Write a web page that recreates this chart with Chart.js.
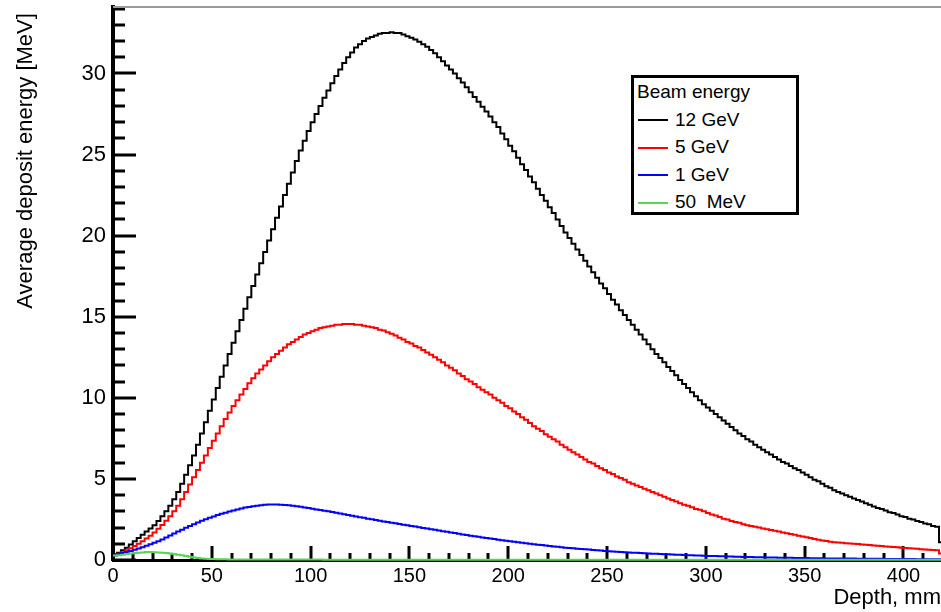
<!DOCTYPE html>
<html>
<head>
<meta charset="utf-8">
<title>Average deposit energy vs depth</title>
<script src="https://cdn.jsdelivr.net/npm/chart.js@4.4.1/dist/chart.umd.min.js"></script>
<style>
  html, body { margin: 0; padding: 0; background: #fff; }
  #wrap { position: relative; width: 941px; height: 612px; }
  #legend {
    position: absolute; left: 631px; top: 75px;
    width: 162px; height: 134px;
    border: 3px solid #000; background: #fff;
    font-family: "Liberation Sans", Arial, sans-serif; font-size: 19px; color: #000;
  }
  #legend .row { position: absolute; left: 0; height: 27px; line-height: 27px; white-space: pre; }
  #legend .head { left: 3px; }
  #legend .swatch { display: inline-block; width: 30px; height: 2px; margin: 0 7px 0 4px; vertical-align: middle; }
</style>
</head>
<body>
<div id="wrap">
  <canvas id="depthChart" width="941" height="612"></canvas>
  <div id="legend"></div>
</div>
<script>
// Bins: 2 mm wide, lower edges 0 .. 418 mm
const binWidth = 2;
const depth = Array.from({ length: 210 }, (_, i) => i * binWidth);

const seriesLabels = ['12 GeV', '5 GeV', '1 GeV', '50  MeV'];
const seriesColors = ['#000000', '#ff0000', '#0000ff', '#59d454'];

const xTickValues = [0, 50, 100, 150, 200, 250, 300, 350, 400];
const yTickValues = [0, 5, 10, 15, 20, 25, 30];
const xMinorStep = 10;
const yMinorStep = 1;

// Average deposit per bin [MeV]
const e12GeV = [
  0.35, 0.45, 0.6, 0.75, 0.95, 1.15, 1.35, 1.55, 1.75, 1.95,
  2.15, 2.4, 2.7, 3.0, 3.35, 3.75, 4.2, 4.7, 5.25, 5.85,
  6.45, 7.1, 7.8, 8.5, 9.2, 9.9, 10.6, 11.3, 12.0, 12.7,
  13.4, 14.1, 14.8, 15.5, 16.2, 16.9, 17.6, 18.3, 19.0, 19.7,
  20.4, 21.1, 21.8, 22.5, 23.2, 23.9, 24.6, 25.25, 25.85, 26.45,
  27.0, 27.5, 28.0, 28.5, 28.95, 29.4, 29.85, 30.25, 30.65, 31.0,
  31.3, 31.6, 31.8, 32.0, 32.15, 32.25, 32.35, 32.45, 32.5, 32.5,
  32.55, 32.5, 32.5, 32.4, 32.3, 32.2, 32.1, 31.95, 31.8, 31.65,
  31.45, 31.25, 31.0, 30.75, 30.5, 30.25, 30.0, 29.7, 29.45, 29.15,
  28.85, 28.55, 28.25, 27.95, 27.65, 27.35, 27.0, 26.7, 26.3, 25.95,
  25.55, 25.2, 24.8, 24.4, 24.05, 23.65, 23.3, 22.9, 22.5, 22.15,
  21.75, 21.4, 21.0, 20.6, 20.2, 19.85, 19.5, 19.15, 18.8, 18.45,
  18.1, 17.75, 17.4, 17.05, 16.75, 16.4, 16.05, 15.75, 15.4, 15.1,
  14.8, 14.5, 14.2, 13.9, 13.6, 13.3, 13.0, 12.7, 12.45, 12.2,
  11.9, 11.65, 11.4, 11.1, 10.85, 10.6, 10.35, 10.1, 9.85, 9.6,
  9.4, 9.2, 9.0, 8.8, 8.6, 8.4, 8.2, 8.0, 7.8, 7.65,
  7.45, 7.3, 7.1, 6.95, 6.8, 6.65, 6.5, 6.35, 6.2, 6.05,
  5.95, 5.8, 5.65, 5.55, 5.4, 5.25, 5.1, 4.95, 4.85, 4.7,
  4.55, 4.45, 4.3, 4.2, 4.1, 4.0, 3.9, 3.8, 3.7, 3.6,
  3.5, 3.4, 3.3, 3.2, 3.15, 3.05, 2.95, 2.9, 2.8, 2.7,
  2.65, 2.55, 2.5, 2.4, 2.35, 2.25, 2.2, 2.1, 2.05, 1.1
];
const e5GeV = [
  0.3, 0.38, 0.48, 0.6, 0.72, 0.86, 1.0, 1.15, 1.32, 1.5,
  1.7, 1.92, 2.16, 2.42, 2.7, 3.0, 3.35, 3.75, 4.2, 4.65,
  5.1, 5.55, 6.0, 6.45, 6.9, 7.35, 7.8, 8.25, 8.7, 9.1,
  9.5, 9.85, 10.2, 10.55, 10.9, 11.2, 11.5, 11.75, 12.0, 12.25,
  12.5, 12.7, 12.9, 13.1, 13.3, 13.45, 13.6, 13.75, 13.9, 14.0,
  14.1, 14.2, 14.3, 14.35, 14.4, 14.45, 14.5, 14.5, 14.55, 14.55,
  14.55, 14.5, 14.5, 14.45, 14.4, 14.35, 14.3, 14.2, 14.15, 14.05,
  13.95, 13.85, 13.7, 13.6, 13.45, 13.35, 13.2, 13.1, 12.95, 12.8,
  12.65, 12.5, 12.35, 12.2, 12.0, 11.85, 11.7, 11.5, 11.35, 11.15,
  11.0, 10.85, 10.65, 10.5, 10.35, 10.2, 10.0, 9.85, 9.7, 9.5,
  9.35, 9.15, 9.0, 8.8, 8.65, 8.45, 8.25, 8.1, 7.95, 7.75,
  7.6, 7.45, 7.3, 7.1, 6.95, 6.8, 6.65, 6.5, 6.35, 6.2,
  6.05, 5.95, 5.8, 5.65, 5.55, 5.4, 5.3, 5.15, 5.05, 4.95,
  4.8, 4.7, 4.6, 4.5, 4.4, 4.3, 4.2, 4.1, 4.0, 3.9,
  3.8, 3.7, 3.6, 3.5, 3.4, 3.35, 3.25, 3.15, 3.1, 3.0,
  2.9, 2.8, 2.75, 2.65, 2.55, 2.5, 2.4, 2.35, 2.3, 2.2,
  2.15, 2.1, 2.05, 2.0, 1.95, 1.9, 1.85, 1.8, 1.75, 1.7,
  1.65, 1.6, 1.55, 1.5, 1.45, 1.4, 1.35, 1.3, 1.25, 1.2,
  1.17, 1.13, 1.1, 1.08, 1.06, 1.04, 1.02, 1.0, 0.98, 0.96,
  0.94, 0.92, 0.9, 0.88, 0.86, 0.84, 0.82, 0.8, 0.78, 0.76,
  0.74, 0.72, 0.71, 0.69, 0.67, 0.65, 0.63, 0.62, 0.6, 0.4
];
const e1GeV = [
  0.3, 0.36, 0.43, 0.5, 0.56, 0.63, 0.71, 0.79, 0.88, 0.97,
  1.06, 1.16, 1.27, 1.39, 1.51, 1.63, 1.75, 1.87, 1.99, 2.1,
  2.21, 2.32, 2.42, 2.52, 2.61, 2.69, 2.77, 2.85, 2.92, 2.99,
  3.06, 3.12, 3.18, 3.23, 3.27, 3.31, 3.35, 3.38, 3.4, 3.42,
  3.42, 3.42, 3.41, 3.39, 3.37, 3.34, 3.31, 3.28, 3.24, 3.2,
  3.16, 3.12, 3.08, 3.04, 3.0, 2.96, 2.91, 2.87, 2.82, 2.78,
  2.73, 2.69, 2.64, 2.6, 2.55, 2.51, 2.47, 2.42, 2.38, 2.34,
  2.3, 2.26, 2.22, 2.18, 2.14, 2.1, 2.06, 2.02, 1.98, 1.94,
  1.9, 1.86, 1.82, 1.78, 1.74, 1.7, 1.66, 1.62, 1.58, 1.54,
  1.5, 1.46, 1.43, 1.39, 1.36, 1.32, 1.29, 1.25, 1.22, 1.19,
  1.15, 1.12, 1.09, 1.06, 1.03, 1.0, 0.97, 0.94, 0.92, 0.89,
  0.86, 0.84, 0.81, 0.79, 0.76, 0.74, 0.72, 0.7, 0.68, 0.66,
  0.64, 0.62, 0.6, 0.58, 0.56, 0.54, 0.53, 0.51, 0.5, 0.48,
  0.47, 0.45, 0.44, 0.43, 0.41, 0.4, 0.39, 0.38, 0.37, 0.36,
  0.35, 0.34, 0.33, 0.32, 0.31, 0.3, 0.29, 0.28, 0.27, 0.26,
  0.25, 0.245, 0.24, 0.23, 0.225, 0.22, 0.21, 0.205, 0.2, 0.19,
  0.185, 0.18, 0.175, 0.17, 0.165, 0.16, 0.155, 0.15, 0.145, 0.14,
  0.14, 0.135, 0.13, 0.125, 0.12, 0.12, 0.115, 0.11, 0.11, 0.105,
  0.1, 0.1, 0.095, 0.095, 0.09, 0.09, 0.085, 0.085, 0.08, 0.08,
  0.075, 0.075, 0.07, 0.07, 0.07, 0.065, 0.065, 0.06, 0.06, 0.06,
  0.055, 0.055, 0.055, 0.05, 0.05, 0.05, 0.05, 0.045, 0.045, 0.04
];
const e50MeV = [
  0.27, 0.3, 0.33, 0.37, 0.4, 0.43, 0.45, 0.47, 0.49, 0.49,
  0.48, 0.47, 0.45, 0.43, 0.4, 0.37, 0.33, 0.29, 0.24, 0.2,
  0.16, 0.13, 0.1, 0.08, 0.065, 0.055, 0.05, 0.045, 0.04, 0.038,
  0.035, 0.034, 0.033, 0.032, 0.031, 0.03, 0.03, 0.03, 0.029, 0.029,
  0.028, 0.028, 0.027, 0.027, 0.026, 0.026, 0.026, 0.025, 0.025, 0.025,
  0.024, 0.024, 0.024, 0.023, 0.023, 0.023, 0.022, 0.022, 0.022, 0.022,
  0.021, 0.021, 0.021, 0.021, 0.021, 0.021, 0.021, 0.021, 0.021, 0.021,
  0.02, 0.02, 0.02, 0.02, 0.02, 0.02, 0.02, 0.02, 0.02, 0.02,
  0.019, 0.019, 0.019, 0.019, 0.019, 0.019, 0.019, 0.019, 0.019, 0.019,
  0.018, 0.018, 0.018, 0.018, 0.018, 0.018, 0.018, 0.018, 0.018, 0.018,
  0.017, 0.017, 0.017, 0.017, 0.017, 0.017, 0.017, 0.017, 0.017, 0.017,
  0.016, 0.016, 0.016, 0.016, 0.016, 0.016, 0.016, 0.016, 0.016, 0.016,
  0.015, 0.015, 0.015, 0.015, 0.015, 0.015, 0.015, 0.015, 0.015, 0.015,
  0.014, 0.014, 0.014, 0.014, 0.014, 0.014, 0.014, 0.014, 0.014, 0.014,
  0.013, 0.013, 0.013, 0.013, 0.013, 0.013, 0.013, 0.013, 0.013, 0.013,
  0.012, 0.012, 0.012, 0.012, 0.012, 0.012, 0.012, 0.012, 0.012, 0.012,
  0.011, 0.011, 0.011, 0.011, 0.011, 0.011, 0.011, 0.011, 0.011, 0.011,
  0.01, 0.01, 0.01, 0.01, 0.01, 0.01, 0.01, 0.01, 0.01, 0.01,
  0.01, 0.01, 0.01, 0.01, 0.01, 0.01, 0.01, 0.01, 0.01, 0.01,
  0.01, 0.01, 0.01, 0.01, 0.01, 0.01, 0.01, 0.01, 0.01, 0.01,
  0.01, 0.01, 0.01, 0.01, 0.01, 0.01, 0.01, 0.01, 0.01, 0.01
];
const seriesValues = [e12GeV, e5GeV, e1GeV, e50MeV];

const FONT = '"Liberation Sans", Arial, Helvetica, sans-serif';

// histogram outline: one point per bin edge, last bin closed at its upper edge
function toSteps(values) {
  const pts = values.map((v, i) => ({ x: depth[i], y: v }));
  pts.push({ x: depth[depth.length - 1] + binWidth, y: values[values.length - 1] });
  return pts;
}

// ROOT-like frame: ticks pointing into the pad, thin top edge
const rootFrame = {
  id: 'rootFrame',
  beforeDatasetsDraw(chart) {
    const { ctx, chartArea: a, scales: { x, y } } = chart;
    ctx.save();
    ctx.strokeStyle = '#000';
    ctx.lineWidth = 3;
    ctx.beginPath();
    for (let v = 0; v <= x.max; v += xMinorStep) {
      const px = Math.round(x.getPixelForValue(v));
      const len = xTickValues.includes(v) ? 14 : 7;
      ctx.moveTo(px, a.bottom);
      ctx.lineTo(px, a.bottom - len);
    }
    for (let v = 0; v <= y.max; v += yMinorStep) {
      const py = Math.round(y.getPixelForValue(v));
      const len = yTickValues.includes(v) ? 23 : 12;
      ctx.moveTo(a.left, py);
      ctx.lineTo(a.left + len, py);
    }
    ctx.stroke();

    ctx.strokeStyle = '#9a9a9a';
    ctx.lineWidth = 2;
    ctx.beginPath();
    ctx.moveTo(a.left, a.top);
    ctx.lineTo(a.right, a.top);
    ctx.stroke();
    ctx.restore();
  }
};

document.addEventListener('DOMContentLoaded', function () {

  // Depth profiles
  const ctx = document.getElementById('depthChart').getContext('2d');
  new Chart(ctx, {
    type: 'line',
    data: {
      datasets: seriesValues.map((vals, i) => ({
        label: seriesLabels[i],
        data: toSteps(vals),
        borderColor: seriesColors[i],
        borderWidth: 2,
        pointRadius: 0,
        stepped: 'before',
        fill: false,
        clip: 4,
        order: seriesValues.length - i
      }))
    },
    options: {
      responsive: false,
      animation: false,
      layout: { padding: { top: 7, right: 0, bottom: 0, left: 0 } },
      plugins: {
        legend: { display: false },
        tooltip: { enabled: false }
      },
      scales: {
        x: {
          type: 'linear',
          min: 0,
          max: 419,
          afterFit: s => { s.height = 52; s.paddingLeft = 0; s.paddingRight = 0; },
          afterBuildTicks: s => { s.ticks = xTickValues.map(v => ({ value: v })); },
          grid: { display: false, drawTicks: false },
          border: { display: true, color: '#000', width: 3 },
          ticks: { color: '#000', padding: 4, maxRotation: 0, autoSkip: false, font: { family: FONT, size: 20 } },
          title: {
            display: true, text: 'Depth, mm', align: 'end', color: '#000',
            font: { family: FONT, size: 22 }, padding: { top: 0, bottom: 1 }
          }
        },
        y: {
          min: 0,
          max: 34.1,
          afterFit: s => { s.width = 113; s.paddingTop = 0; s.paddingBottom = 0; },
          afterBuildTicks: s => { s.ticks = yTickValues.map(v => ({ value: v })); },
          grid: { display: false, drawTicks: false },
          border: { display: true, color: '#000', width: 4 },
          ticks: { color: '#000', padding: 7, font: { family: FONT, size: 22 } },
          title: {
            display: true, text: 'Average deposit energy [MeV]\u00a0', align: 'end', color: '#000',
            font: { family: FONT, size: 22 }, padding: { top: 13, bottom: 0 }
          }
        }
      }
    },
    plugins: [rootFrame]
  });

  // Legend box
  const legend = document.getElementById('legend');
  let html = '<div class="row head" style="top:0">Beam energy</div>';
  seriesLabels.forEach((label, i) => {
    html += '<div class="row" style="top:' + (27.5 * (i + 1)) + 'px">' +
      '<span class="swatch" style="background:' + seriesColors[i] + '"></span>' + label + '</div>';
  });
  legend.innerHTML = html;

});
</script>
</body>
</html>
